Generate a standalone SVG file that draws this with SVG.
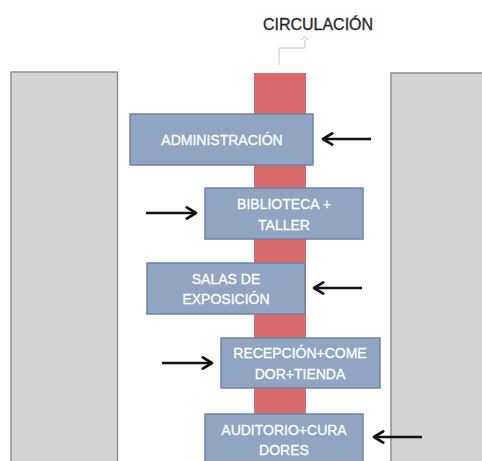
<svg xmlns="http://www.w3.org/2000/svg" width="482" height="461" viewBox="0 0 482 461">
  <defs>
    <style>
      .block { fill: #d4d4d6; stroke: #8c9096; stroke-width: 1.5; }
      .room { fill: #8fa5c2; stroke: #6c84a3; stroke-width: 1.5; }
      .room-label { font-family: "Liberation Sans", Arial, sans-serif; font-size: 14px; fill: #ffffff; stroke: #ffffff; stroke-width: 0.3; text-anchor: middle; }
      .title { font-family: "Liberation Sans", Arial, sans-serif; font-size: 16px; fill: #262626; stroke: #262626; stroke-width: 0.3; text-anchor: middle; }
      .flow { stroke: #111111; stroke-width: 2.4; fill: none; marker-end: url(#head); }
      .leader { stroke: #c8c8c8; stroke-width: 1; fill: none; }
    </style>
    <marker id="head" viewBox="0 0 10 10" refX="8.5" refY="5" markerWidth="5.5" markerHeight="5.5" orient="auto" markerUnits="strokeWidth">
      <path d="M1.5,0.8 L8.5,5 L1.5,9.2" fill="none" stroke="#111111" stroke-width="2" stroke-linecap="round" stroke-linejoin="round"/>
    </marker>
  </defs>

  <rect width="482" height="461" fill="#ffffff"/>

  <!-- side masses -->
  <g id="left-block">
    <rect class="block" x="11" y="72" width="106.5" height="395"/>
  </g>
  <g id="right-block">
    <rect class="block" x="391" y="73" width="100" height="395"/>
  </g>

  <!-- circulation spine -->
  <g id="circulacion">
    <rect x="254" y="73" width="52" height="395" fill="#d96b6d"/>
    <text class="title" x="318" y="30">CIRCULACIÓN</text>
  </g>

  <g id="connectors">
    <path class="leader" d="M279,65 L279,48 L305,48 L305,40"/>
    <path class="leader" d="M301,40 L304.5,36.5 L308,40"/>
    <line class="flow" x1="371" y1="139" x2="323" y2="139"/>
    <line class="flow" x1="146" y1="213" x2="196" y2="213"/>
    <line class="flow" x1="362" y1="288" x2="314" y2="288"/>
    <line class="flow" x1="162" y1="363" x2="212" y2="363"/>
    <line class="flow" x1="422" y1="437" x2="374" y2="437"/>
  </g>

  <g id="administracion">
    <rect class="room" x="130" y="114" width="183" height="51"/>
    <text class="room-label" x="222" y="145">ADMINISTRACIÓN</text>
  </g>

  <g id="biblioteca">
    <rect class="room" x="205" y="188" width="158" height="51"/>
    <text class="room-label" x="284" y="209">BIBLIOTECA +</text>
    <text class="room-label" x="284" y="230">TALLER</text>
  </g>

  <g id="salas">
    <rect class="room" x="147" y="263" width="158" height="51"/>
    <text class="room-label" x="226" y="284">SALAS DE</text>
    <text class="room-label" x="226" y="304">EXPOSICIÓN</text>
  </g>

  <g id="recepcion">
    <rect class="room" x="221" y="338" width="159" height="50"/>
    <text class="room-label" x="300" y="358">RECEPCIÓN+COME</text>
    <text class="room-label" x="300" y="379">DOR+TIENDA</text>
  </g>

  <g id="auditorio">
    <rect class="room" x="205" y="414" width="158" height="60"/>
    <text class="room-label" x="284" y="435">AUDITORIO+CURA</text>
    <text class="room-label" x="284" y="455">DORES</text>
  </g>
</svg>
